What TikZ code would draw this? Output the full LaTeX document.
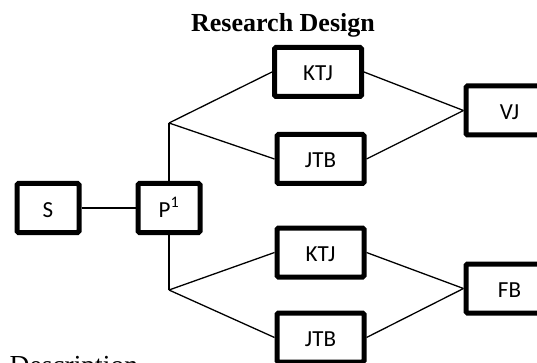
\documentclass[tikz,border=0pt]{standalone}
\usepackage{fontspec}
\setmainfont{Liberation Serif}
\newfontfamily\boxfont{Carlito}
\usetikzlibrary{positioning}
\tikzset {
    node distance=121pt,
    blk/.style={draw, line width=5pt, rounded corners=1.5pt,
        minimum width=87pt, minimum height=49pt, inner sep=0pt,
        font=\boxfont\fontsize{23}{27}\selectfont,
        text height=18pt, text depth=0pt},
    small blk/.style={blk, minimum width=62pt},
    link/.style={line width=1.3pt}
}

\begin{document}
\begin{tikzpicture}[x=1pt, y=-1pt]
    \useasboundingbox (0,0) rectangle (537,363);

    \node[anchor=base, font=\bfseries\fontsize{26}{30}\selectfont] (title) at (283,32) {Research Design};

    \node[small blk] (S) at (48,208) {S};
    \node[small blk, right of=S] (P) {P\textsuperscript{1}};

    \node[blk] (ktj1) at (318,72) {KTJ};
    \node[blk] (jtb1) at (320.5,159) {JTB};
    \node[blk] (ktj2) at (320.5,252.5) {KTJ};
    \node[blk] (jtb2) at (320.5,337.5) {JTB};

    \node[blk] (VJ) at (509.5,110.5) {VJ};
    \node[blk] (FB) at (509.5,288.5) {FB};

    \node[anchor=base west, inner sep=0pt, font=\fontsize{27.5}{32}\selectfont] (desc) at (9.5,374) {Description};

    \coordinate (up) at (169,123);
    \coordinate (lo) at (169,290);

    \draw[link] (S) -- (P);
    \draw[link] (P.north) -- (up);
    \draw[link] (P.south) -- (lo);

    \draw[link]
    (up) -- (ktj1.west)
    (up) -- (jtb1.west)
    (lo) -- (ktj2.west)
    (lo) -- (jtb2.west)
    (ktj1.east) -- (VJ.west)
    (jtb1.east) -- (VJ.west)
    (ktj2.east) -- (FB.west)
    (jtb2.east) -- (FB.west);
\end{tikzpicture}
\end{document}
